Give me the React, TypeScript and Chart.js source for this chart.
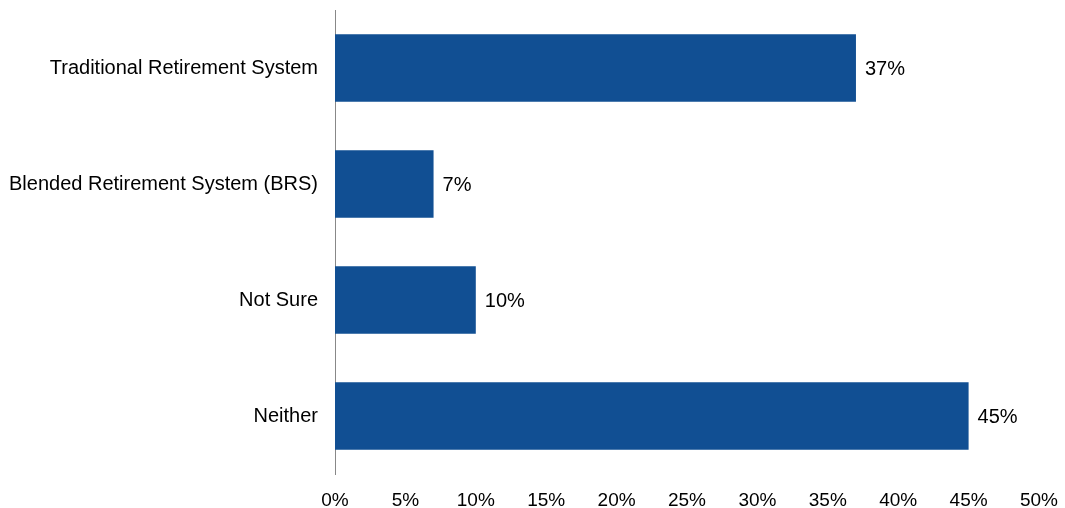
import React, { useEffect, useRef } from "react";
import { Chart, registerables } from "chart.js";

Chart.register(...registerables);

const categories = [
  "Traditional Retirement System",
  "Blended Retirement System (BRS)",
  "Not Sure",
  "Neither",
];
const values = [37, 7, 10, 45];
const xTicks = [0, 5, 10, 15, 20, 25, 30, 35, 40, 45, 50];

const FONT = "'Liberation Sans', Arial, sans-serif";

const dataLabels = {
  id: "dataLabels",
  afterDatasetsDraw(chart: any) {
    const ctx = chart.ctx;
    const meta = chart.getDatasetMeta(0);
    ctx.save();
    ctx.font = `20px ${FONT}`;
    ctx.fillStyle = "#000";
    ctx.textAlign = "left";
    ctx.textBaseline = "middle";
    meta.data.forEach((bar: any, i: number) => {
      ctx.fillText(values[i] + "%", bar.x + 9, bar.y + 1);
    });
    ctx.restore();
  },
};

export default function App() {
  const ref = useRef<HTMLCanvasElement | null>(null);
  useEffect(() => {
    if (!ref.current) return;
    const chart = new Chart(ref.current, {
      type: "bar",
      data: {
        labels: categories,
        datasets: [
          {
            data: values,
            backgroundColor: "#114F93",
            borderWidth: 0,
            barPercentage: 0.58,
            categoryPercentage: 1,
          },
        ],
      },
      options: {
        indexAxis: "y",
        animation: false,
        responsive: false,
        maintainAspectRatio: false,
        layout: { padding: { top: 10, right: 26, left: 0, bottom: 0 } },
        plugins: {
          legend: { display: false },
          tooltip: { enabled: false },
        },
        scales: {
          x: {
            min: 0,
            max: 50,
            afterBuildTicks: (scale: any) => {
              scale.ticks = xTicks.map((v) => ({ value: v }));
            },
            grid: { display: false, drawTicks: false },
            border: { display: false },
            ticks: {
              color: "#000",
              font: { family: FONT, size: 19 },
              padding: 15,
              maxRotation: 0,
              autoSkip: false,
              callback: (v: any) => v + "%",
            },
            afterFit: (scale: any) => {
              scale.height = 34;
              scale.paddingLeft = 0;
              scale.paddingRight = 0;
            },
          },
          y: {
            grid: { display: false, drawTicks: false },
            border: { display: true, color: "#888888", width: 1 },
            ticks: {
              color: "#000",
              font: { family: FONT, size: 20 },
              padding: 17,
            },
            afterFit: (scale: any) => {
              scale.width = 335;
              scale.paddingTop = 0;
              scale.paddingBottom = 0;
            },
          },
        },
      },
      plugins: [dataLabels],
    });
    return () => chart.destroy();
  }, []);
  return (
    <div style={{ position: "fixed", left: 0, top: 0, width: 1065, height: 508, background: "#fff" }}>
      <canvas ref={ref} width={1065} height={508} style={{ display: "block" }} />
    </div>
  );
}
